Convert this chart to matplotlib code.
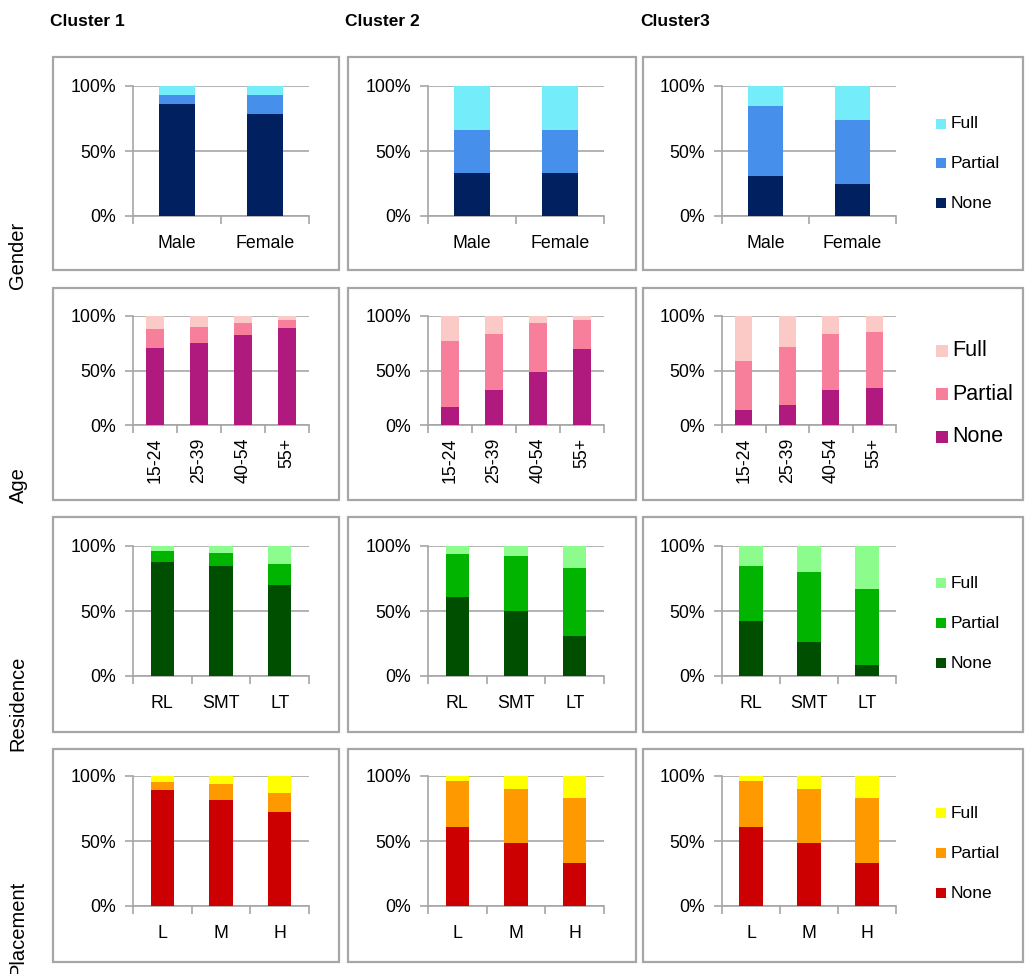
import numpy as np
import matplotlib
matplotlib.use("Agg")
import matplotlib.pyplot as plt
from matplotlib.patches import Rectangle

plt.rcParams['font.family'] = ['Liberation Sans', 'DejaVu Sans']

W, H = 1025, 974

# Data: share (0-1) for None / Partial / Full per cluster
clusters = ["Cluster 1", "Cluster 2", "Cluster3"]
row_names = ["Gender", "Age", "Residence", "Placement"]
levels = ["Full", "Partial", "None"]

gender_cats = ["Male", "Female"]
gender_none = [[0.86, 0.785], [0.33, 0.33], [0.31, 0.246]]
gender_partial = [[0.07, 0.145], [0.33, 0.33], [0.536, 0.494]]

age_cats = ["15-24", "25-39", "40-54", "55+"]
age_none = [[0.71, 0.756, 0.83, 0.887],
            [0.168, 0.317, 0.49, 0.70],
            [0.137, 0.18, 0.323, 0.338]]
age_partial = [[0.174, 0.144, 0.106, 0.079],
               [0.603, 0.521, 0.449, 0.266],
               [0.451, 0.536, 0.512, 0.512]]

res_cats = ["RL", "SMT", "LT"]
res_none = [[0.877, 0.846, 0.70],
            [0.61, 0.50, 0.31],
            [0.423, 0.26, 0.085]]
res_partial = [[0.083, 0.103, 0.164],
               [0.328, 0.426, 0.523],
               [0.427, 0.54, 0.582]]

place_cats = ["L", "M", "H"]
place_none = [[0.895, 0.813, 0.723],
              [0.61, 0.487, 0.33],
              [0.61, 0.487, 0.33]]
place_partial = [[0.061, 0.125, 0.147],
                 [0.354, 0.413, 0.503],
                 [0.354, 0.413, 0.503]]

rows = [
    (gender_cats, gender_none, gender_partial, ["#002060", "#4690EB", "#75ECFA"], 12.5, 0),
    (age_cats, age_none, age_partial, ["#B0197E", "#F77F9B", "#FBC9C6"], 15.5, 90),
    (res_cats, res_none, res_partial, ["#004F00", "#00B400", "#8CFC8C"], 12.5, 0),
    (place_cats, place_none, place_partial, ["#CC0000", "#FF9900", "#FFFF00"], 12.5, 0),
]

# layout in pixels
col_x = [(133, 309), (428, 604), (722, 896)]
row_y = [(86, 216), (316, 425), (546, 676), (776, 906)]
box_x = [(53, 339), (348, 636), (643, 1023)]
box_y = [(57, 270), (288, 500), (517, 732), (749, 962)]
label_y = [255, 485, 703, 928]
legend_y = [(124, 163, 203), (351, 394, 437), (583, 623, 663), (813, 853, 893)]

fig = plt.figure(figsize=(W / 100, H / 100), dpi=100)
fig.patch.set_facecolor("white")

grey = "#A6A6A6"

for r, (cats, none, partial, colors, legsize, rot) in enumerate(rows):
    for c in range(3):
        bx0, bx1 = box_x[c]
        by0, by1 = box_y[r]
        fig.patches.append(Rectangle((bx0 / W, 1 - by1 / H), (bx1 - bx0) / W, (by1 - by0) / H,
                                     transform=fig.transFigure, fill=False,
                                     edgecolor=grey, linewidth=1.6))
        x0, x1 = col_x[c]
        y0, y1 = row_y[r]
        ax = fig.add_axes([x0 / W, 1 - y1 / H, (x1 - x0) / W, (y1 - y0) / H])
        n = len(cats)
        x = np.arange(n)
        nn = np.array(none[c])
        pp = np.array(partial[c])
        ff = 1 - nn - pp
        ax.bar(x, nn, 0.4, color=colors[0], zorder=3)
        ax.bar(x, pp, 0.4, bottom=nn, color=colors[1], zorder=3)
        ax.bar(x, ff, 0.4, bottom=nn + pp, color=colors[2], zorder=3)
        ax.set_xlim(-0.5, n - 0.5)
        ax.set_ylim(0, 1)
        ax.set_yticks([0, 0.5, 1])
        ax.set_yticklabels(["0%", "50%", "100%"], fontsize=12.8)
        ax.yaxis.grid(True, color=grey, linewidth=1.2, zorder=0)
        ax.tick_params(axis="y", length=6, color=grey, width=1.2, pad=6)
        for s in ["top", "right"]:
            ax.spines[s].set_visible(False)
        ax.spines["left"].set_color(grey)
        ax.spines["left"].set_linewidth(1.2)
        ax.spines["bottom"].set_color(grey)
        ax.spines["bottom"].set_linewidth(1.2)
        ax.set_xticks(np.arange(n + 1) - 0.5, minor=False)
        ax.set_xticklabels([])
        ax.set_xticks(x, minor=True)
        ax.set_xticklabels(cats, minor=True, fontsize=12.8, rotation=rot)
        ax.tick_params(axis="x", which="major", length=6, color=grey, width=1.2)
        ax.tick_params(axis="x", which="minor", length=0, pad=14 if rot == 0 else 9)
        ax.set_facecolor("none")

        if c == 2:
            for k, lv in enumerate(levels):
                ly = legend_y[r][k]
                col = colors[2 - k]
                sq = 10 if legsize < 14 else 12
                fig.patches.append(Rectangle((936 / W, 1 - (ly + sq / 2) / H), sq / W, sq / H,
                                             transform=fig.transFigure, facecolor=col,
                                             edgecolor="none"))
                fig.text((951 if legsize < 14 else 952) / W, 1 - ly / H, lv,
                         fontsize=legsize, va="center", ha="left")

    fig.text(18 / W, 1 - label_y[r] / H, row_names[r], rotation=90, fontsize=14.5,
             ha="center", va="center")

for c, (name, tx) in enumerate(zip(clusters, [50, 345, 640])):
    fig.text(tx / W, 1 - 21 / H, name, fontsize=12.5, fontweight="bold", va="center", ha="left")

fig.savefig("out.png", dpi=100, facecolor="white")
